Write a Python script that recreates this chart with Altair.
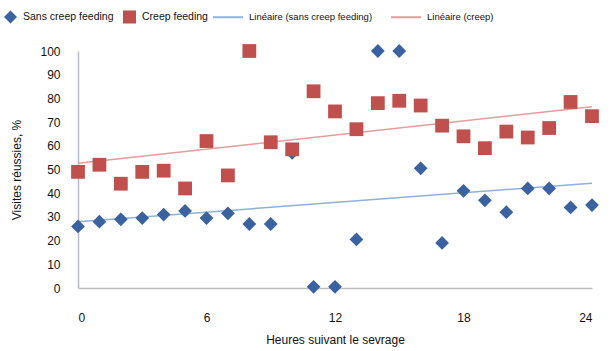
import altair as alt
import pandas as pd

hours = list(range(25))
sans = [26, 28, 29, 29.5, 31, 32.5, 29.5, 31.5, 27, 27, 57, 0.5, 0.5, 20.5, 100, 100,
        50.5, 19, 41, 37, 32, 42, 42, 34, 35]
creep = [49, 52, 44, 49, 49.5, 42, 62, 47.5, 100, 61.5, 58.5, 83, 74.5, 67, 78, 79,
         77, 68.5, 64, 59, 66, 63.5, 67.5, 78.5, 72.5]

series_names = ["Sans creep feeding", "Creep feeding"]
trend_names = ["Linéaire (sans creep feeding)", "Linéaire (creep)"]
x_ticks = [0, 6, 12, 18, 24]
y_ticks = list(range(0, 101, 10))

rows = []
for h, v in zip(hours, sans):
    rows.append({"hour": h, "value": v, "series": series_names[0], "trend": trend_names[0]})
for h, v in zip(hours, creep):
    rows.append({"hour": h, "value": v, "series": series_names[1], "trend": trend_names[1]})
df = pd.DataFrame(rows)

FONT = "Liberation Sans"

x_enc = alt.X("hour:Q", scale=alt.Scale(domain=[0, 24], nice=False),
              axis=alt.Axis(values=x_ticks, title="Heures suivant le sevrage",
                            tickSize=0, labelPadding=24, titlePadding=11,
                            domainColor="#BFBFBF", domainWidth=1.5))
y_enc = alt.Y("value:Q", scale=alt.Scale(domain=[0, 100], nice=False),
              axis=alt.Axis(values=y_ticks, title="Visites réussies, %",
                            tickSize=0, labelPadding=18, titlePadding=16,
                            domainColor="#B4BACA", domainWidth=1.5))

base = alt.Chart(df)

lines = base.transform_regression(
    "hour", "value", groupby=["trend"], extent=[0, 24]
).mark_line(strokeWidth=1.5).encode(
    x=x_enc, y=y_enc,
    color=alt.Color("trend:N",
                    scale=alt.Scale(domain=trend_names, range=["#8EB0DC", "#E59C9A"]),
                    legend=alt.Legend(title=None, orient="none", direction="horizontal",
                                      columns=2, legendX=134, legendY=-50,
                                      symbolType="stroke", symbolSize=900,
                                      symbolStrokeWidth=2, labelFontSize=9.5,
                                      labelOffset=5, columnPadding=14, padding=0,
                                      labelLimit=300))
)

pt_legend = alt.Legend(title=None, orient="none", direction="horizontal",
                       columns=2, legendX=-75, legendY=-42, symbolSize=170,
                       labelFontSize=10.5, labelOffset=5, columnPadding=8,
                       padding=0, labelLimit=300)

points = base.mark_point(filled=True, opacity=1, size=190).encode(
    x=x_enc, y=y_enc,
    color=alt.Color("series:N",
                    scale=alt.Scale(domain=series_names, range=["#3A62A0", "#C0504D"]),
                    legend=pt_legend),
    shape=alt.Shape("series:N",
                    scale=alt.Scale(domain=series_names, range=["diamond", "square"]),
                    legend=pt_legend),
)

chart = alt.layer(lines, points).resolve_scale(
    color="independent", shape="independent"
).properties(
    width=514, height=237,
    autosize=alt.AutoSizeParams(type="none"),
    padding={"left": 78, "top": 51, "right": 18, "bottom": 63},
).configure_view(stroke=None).configure_axis(
    grid=False, labelFont=FONT, titleFont=FONT, labelFontSize=12, titleFontSize=12,
    titleFontWeight="normal", labelColor="#111111", titleColor="#111111"
).configure_legend(labelFont=FONT, labelColor="#111111")

chart.save("out.html", embed_options={"renderer": "svg", "actions": False})
